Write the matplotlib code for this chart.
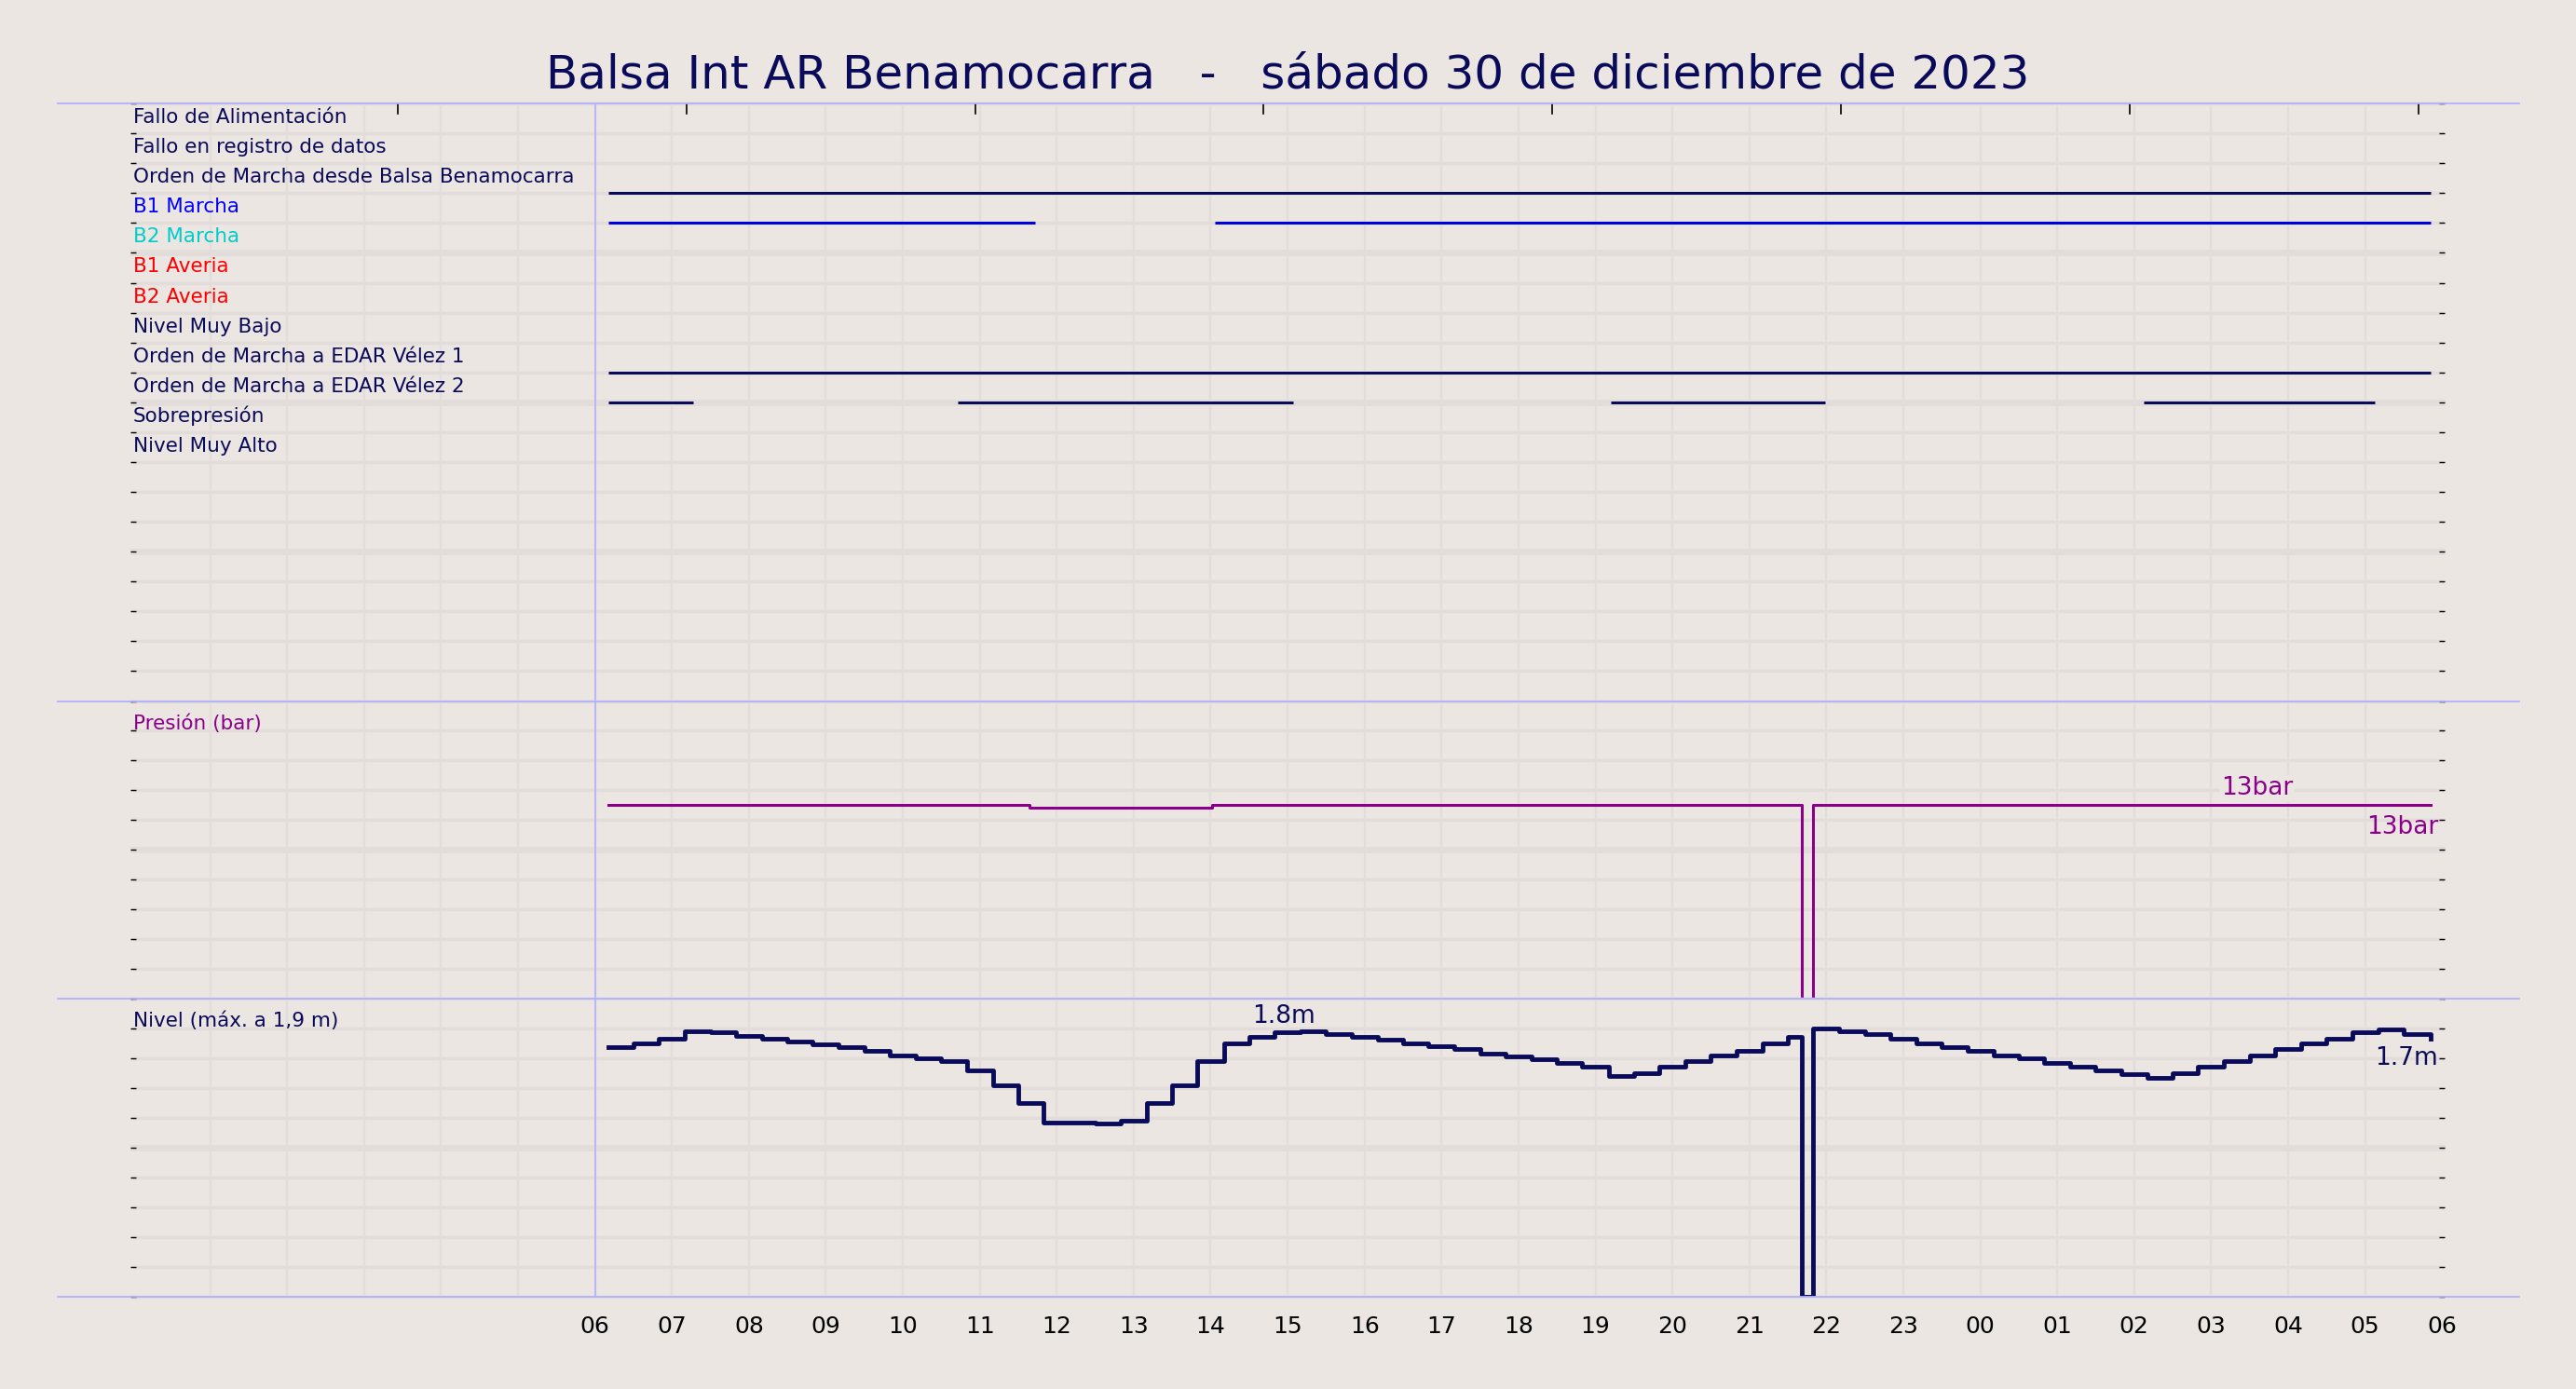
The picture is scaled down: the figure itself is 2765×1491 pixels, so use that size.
import matplotlib
matplotlib.use("Agg")
import matplotlib.pyplot as plt
import numpy as np

title = "Balsa Int AR Benamocarra   -   sábado 30 de diciembre de 2023"
signal_names = ["Fallo de Alimentación", "Fallo en registro de datos",
                "Orden de Marcha desde Balsa Benamocarra", "B1 Marcha", "B2 Marcha",
                "B1 Averia", "B2 Averia", "Nivel Muy Bajo", "Orden de Marcha a EDAR Vélez 1",
                "Orden de Marcha a EDAR Vélez 2", "Sobrepresión", "Nivel Muy Alto"]
signal_colors = ["#0a0a5a", "#0a0a5a", "#0a0a5a", "#0000ff", "#00cccc", "#ff0000", "#ff0000",
                 "#0a0a5a", "#0a0a5a", "#0a0a5a", "#0a0a5a", "#0a0a5a"]
# on intervals (hours since 00:00 of day; >24 = next day)
signal_on = {2: [(6.17, 29.85)],
             3: [(6.17, 11.72), (14.06, 29.85)],
             8: [(6.17, 29.85)],
             9: [(6.17, 7.28), (10.71, 15.07), (19.2, 21.98), (26.12, 29.13)]}
signal_line_colors = {2: "#0a0a5a", 3: "#0000dd", 8: "#0a0a5a", 9: "#0a0a5a"}

pres_t = [6.17, 11.65, 14.02, 21.68, 21.83, 29.85]
pres_v = [13.0, 12.85, 13.0, 0.0, 13.0, 13.0]

lvl_t = [6.17, 6.5, 6.83, 7.17, 7.5, 7.83, 8.17, 8.5, 8.83, 9.17, 9.5, 9.83, 10.17, 10.5, 10.83,
         11.17, 11.5, 11.83, 12.17, 12.5, 12.83, 13.17, 13.5, 13.83, 14.17, 14.5, 14.83, 15.17,
         15.5, 15.83, 16.17, 16.5, 16.83, 17.17, 17.5, 17.83, 18.17, 18.5, 18.83, 19.17, 19.5,
         19.83, 20.17, 20.5, 20.83, 21.17, 21.5, 21.68, 21.83, 22.17, 22.5, 22.83, 23.17, 23.5,
         23.83, 24.17, 24.5, 24.83, 25.17, 25.5, 25.83, 26.17, 26.5, 26.83, 27.17, 27.5, 27.83,
         28.17, 28.5, 28.83, 29.17, 29.5, 29.85]
lvl_v = [1.67, 1.70, 1.73, 1.78, 1.77, 1.75, 1.73, 1.71, 1.69, 1.67, 1.65, 1.62, 1.60, 1.58, 1.52,
         1.42, 1.30, 1.17, 1.17, 1.16, 1.18, 1.30, 1.42, 1.58, 1.70, 1.74, 1.77, 1.78,
         1.76, 1.74, 1.72, 1.70, 1.68, 1.66, 1.63, 1.61, 1.59, 1.57, 1.54, 1.48, 1.50,
         1.54, 1.58, 1.62, 1.65, 1.70, 1.74, 0.0, 1.80, 1.78, 1.76, 1.73, 1.70, 1.67,
         1.65, 1.62, 1.60, 1.57, 1.54, 1.52, 1.49, 1.47, 1.50, 1.54, 1.58, 1.62, 1.66,
         1.70, 1.73, 1.77, 1.79, 1.76, 1.73]

hour_ticks = list(range(6, 31))
hour_labels = ["%02d" % (h % 24) for h in hour_ticks]

BG = "#ebe6e1"
GRID = "#e2dcdb"
NAVY = "#0a0a5a"
PURPLE = "#8b008b"
SEP = "#b0b0ff"

fig = plt.figure(figsize=(27.65, 14.91), dpi=100, facecolor=BG)
L, R = 0.0517, 0.948
panels = [(0.4953, 0.9255, 20), (0.2813, 0.4953, 10), (0.0662, 0.2813, 10)]
axes = []
for (b, t, n) in panels:
    ax = fig.add_axes([L, b, R - L, t - b], facecolor=BG)
    ax.set_xlim(0, 30)
    for s in ax.spines.values():
        s.set_visible(False)
    for h in range(1, 30):
        ax.axvline(h, color=GRID, lw=1.6, zorder=0)
    for i in range(0, n + 1):
        ax.plot([0, 1], [i / n, i / n], color=GRID,
                lw=(5 if i % 5 == 0 and 0 < i < n else 2.5),
                transform=ax.transAxes, zorder=0, clip_on=False)
        ax.plot([0], [i / n], marker="_", color="k", ms=5, transform=ax.transAxes, clip_on=False)
        ax.plot([1], [i / n], marker="_", color="k", ms=5, transform=ax.transAxes, clip_on=False)
    ax.axvline(6, color=SEP, lw=1.2, zorder=1)
    ax.set_xticks([])
    ax.set_yticks([])
    axes.append(ax)

# separators
for y in [0.0662, 0.2813, 0.4953, 0.9255]:
    fig.add_artist(plt.Line2D([0.0223, 0.978], [y, y], color=SEP, lw=1.3))

fig.text(0.5, 0.946, title, ha="center", va="center", fontsize=36, color=NAVY)

# top panel
ax0 = axes[0]
ax0.set_ylim(20, 0)
for xt in np.arange(3.44, 30, 3.75):
    ax0.plot([xt, xt], [0, 0.35], color="k", lw=1.2)
for i, (nm, c) in enumerate(zip(signal_names, signal_colors)):
    ax0.text(0.0, i + 0.78, nm, color=c, fontsize=15.5, va="bottom", ha="left")
for i, ivs in signal_on.items():
    for a, b in ivs:
        ax0.plot([a, b], [i + 1, i + 1], color=signal_line_colors[i], lw=2.2, solid_capstyle="butt")

# pressure
ax1 = axes[1]
ax1.set_ylim(0, 20)
ax1.step(pres_t, pres_v, where="post", color=PURPLE, lw=2.2)
ax1.text(0.0, 18.5, "Presión (bar)", color=PURPLE, fontsize=15.5, va="center")
ax1.text(27.6, 13.3, "13bar", color=PURPLE, fontsize=19, ha="center", va="bottom",
         bbox=dict(facecolor=BG, edgecolor="none", pad=1))
ax1.text(29.95, 12.3, "13bar", color=PURPLE, fontsize=19, ha="right", va="top")

# level
ax2 = axes[2]
ax2.set_ylim(0, 2)
ax2.step(lvl_t, lvl_v, where="post", color=NAVY, lw=3.5)
ax2.text(0.0, 1.85, "Nivel (máx. a 1,9 m)", color=NAVY, fontsize=15.5, va="center")
ax2.text(14.95, 1.80, "1.8m", color=NAVY, fontsize=19, ha="center", va="bottom")
ax2.text(29.95, 1.68, "1.7m", color=NAVY, fontsize=19, ha="right", va="top")
ax2.set_xticks(hour_ticks)
ax2.set_xticklabels(hour_labels, fontsize=18)
ax2.tick_params(axis="x", length=0, pad=14)

fig.savefig("out.png", dpi=100, facecolor=BG)
